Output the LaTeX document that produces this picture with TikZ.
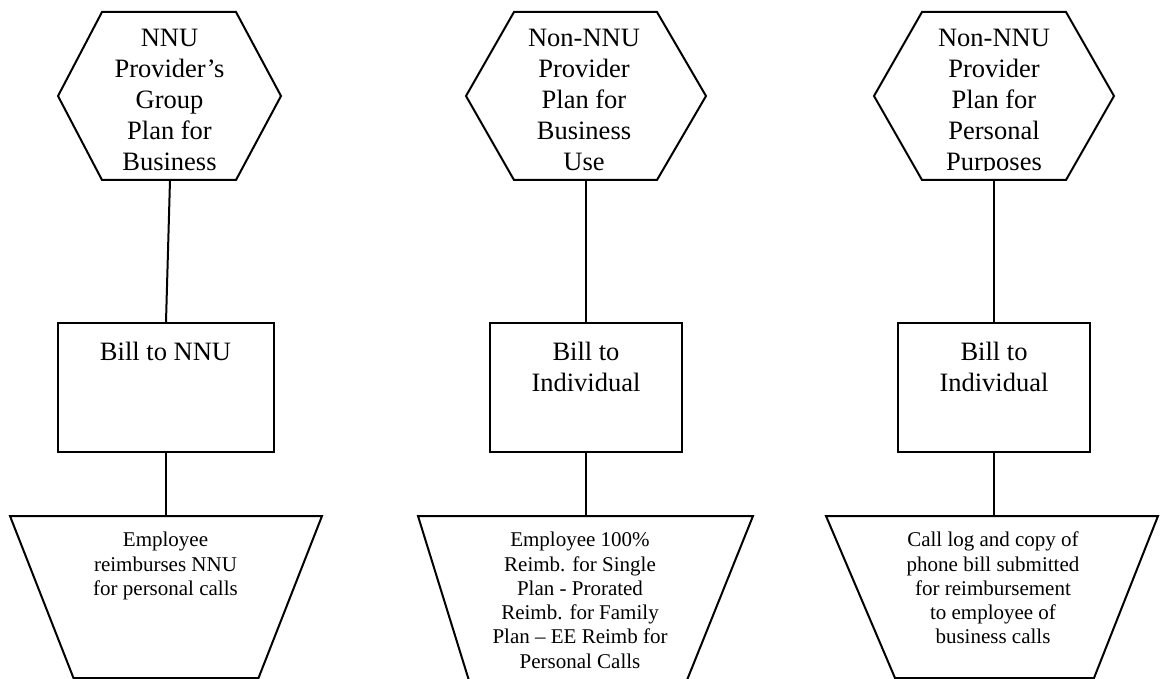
\documentclass[tikz,border=0pt]{standalone}
\usepackage{fontspec}
\setmainfont{Liberation Serif}
\begin{document}
\begin{tikzpicture}[x=1pt,y=-1pt,
  shapeline/.style={draw=black,line width=2pt,line join=miter},
  conn/.style={draw=black,line width=2pt},
  bigtext/.style={font=\fontsize{26.5}{30.8}\selectfont,align=center,anchor=base,inner sep=0pt},
  smalltext/.style={font=\fontsize{21}{24.3}\selectfont,align=center,anchor=base,inner sep=0pt},
  billbox/.style={shapeline,rectangle,inner sep=0pt,minimum height=129pt}]
\clip (0,0) rectangle (1160,679);
\fill[white] (0,0) rectangle (1160,679);

% ---- hexagons ----
\draw[shapeline] (102,12) -- (236,12) -- (281,96) -- (236,180) -- (102,180) -- (58,96) -- cycle;
\draw[shapeline] (514,12) -- (657,12) -- (706,96) -- (657,180) -- (514,180) -- (466,96) -- cycle;
\draw[shapeline] (922,12) -- (1066,12) -- (1114,96) -- (1066,180) -- (922,180) -- (874,96) -- cycle;
\begin{scope}
\clip (0,12) rectangle (1160,170.8);
\node[bigtext] (h1) at (169.5,170.2) {NNU\\Provider’s\\Group\\Plan for\\Business};
\node[bigtext] (h2) at (584,170.2) {Non-NNU\\Provider\\Plan for\\Business\\Use};
\node[bigtext] (h3) at (994,170.2) {Non-NNU\\Provider\\Plan for\\Personal\\Purposes};
\end{scope}
\coordinate (h1b) at (170,180);
\coordinate (h2b) at (586,180);
\coordinate (h3b) at (994,180);

% ---- bill boxes ----
\node[billbox,minimum width=216pt] (r1) at (166,387.5) {};
\node[billbox,minimum width=192pt] (r2) at (586,387.5) {};
\node[billbox,minimum width=192pt] (r3) at (994,387.5) {};
\node[bigtext] (r1t) at (165.5,360) {Bill to NNU};
\node[bigtext] (r2t) at (586,391) {Bill to\\Individual};
\node[bigtext] (r3t) at (994,391) {Bill to\\Individual};

% ---- trapezoids ----
\draw[shapeline] (10,516) -- (322,516) -- (258.5,678) -- (73.5,678) -- cycle;
\draw[shapeline] (418,516) -- (753,516) -- (679,700) -- (475,700) -- cycle;
\draw[shapeline] (826,516) -- (1158,516) -- (1094,678) -- (895,678) -- cycle;
\coordinate (t1) at (166,516);
\coordinate (t2) at (586,516);
\coordinate (t3) at (994,516);
\node[smalltext] (t1t) at (165.5,595.3) {Employee\\reimburses NNU\\for personal calls};
\node[smalltext] (t2t) at (580,668.2) {Employee 100\%\\Reimb. for Single\\Plan - Prorated\\Reimb. for Family\\Plan – EE Reimb for\\Personal Calls};
\node[smalltext] (t3t) at (993,643.9) {Call log and copy of\\phone bill submitted\\for reimbursement\\to employee of\\business calls};

% ---- connectors ----
\draw[conn] (h1b) -- (r1.north);
\draw[conn] (h2b) -- (r2.north);
\draw[conn] (h3b) -- (r3.north);
\draw[conn] (r1.south) -- (t1);
\draw[conn] (r2.south) -- (t2);
\draw[conn] (r3.south) -- (t3);
\end{tikzpicture}
\end{document}
